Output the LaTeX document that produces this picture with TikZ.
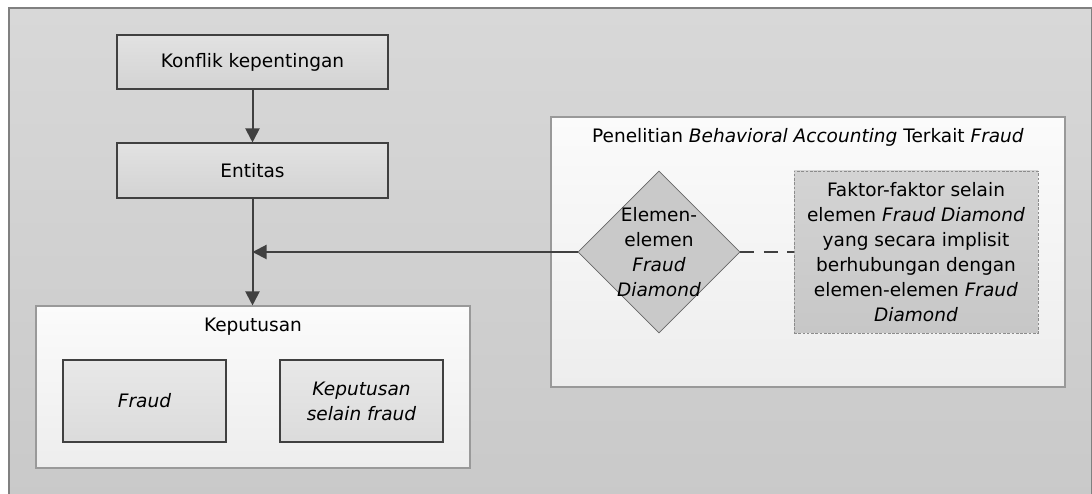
\documentclass[tikz,border=0pt]{standalone}
\usepackage{fontspec}
\setmainfont{DejaVu Sans}
\usetikzlibrary{shapes.geometric,arrows.meta}
\definecolor{latatas}{HTML}{D8D8D8}
\definecolor{latbawah}{HTML}{C9C9C9}
\definecolor{kotakatas}{HTML}{E2E2E2}
\definecolor{kotakbawah}{HTML}{D3D3D3}
\definecolor{wadahatas}{HTML}{FBFBFB}
\definecolor{wadahbawah}{HTML}{EDEDED}
\definecolor{garis}{HTML}{404040}
\begin{document}
\begin{tikzpicture}[x=0.75pt, y=0.75pt,
  font=\fontsize{13.9}{18.75}\selectfont,
  kotak/.style={draw=garis, line width=0.8pt, top color=kotakatas, bottom color=kotakbawah, inner sep=0pt, align=center},
  wadah/.style={draw=black!40, line width=0.8pt, top color=wadahatas, bottom color=wadahbawah, inner sep=0pt},
  panah/.style={-{Triangle[length=10.5pt,width=10.5pt]}, draw=garis, line width=1.5pt}]
  \useasboundingbox (0,0) rectangle (1092,493);
  \draw [draw=black!50, line width=1.1pt, top color=latatas, bottom color=latbawah] (9,485) rectangle (1091.5,-10); % latar
  \node [kotak, minimum width=203.25pt, minimum height=40.5pt] (konflik) at (252.5,431) {Konflik kepentingan};
  \node [kotak, minimum width=203.25pt, minimum height=41.25pt] (entitas) at (252.5,322.5) {Entitas};
  \node [wadah, minimum width=325.5pt, minimum height=121.5pt] (keputusan) at (253,106) {};
  \node (judulkep) at (253,166) {Keputusan};
  \node [kotak, top color=white!91!black, bottom color=white!86!black, minimum width=122.25pt, minimum height=61.5pt] (fraud) at (144.5,92) {\textit{Fraud}};
  \node [kotak, top color=white!91!black, bottom color=white!86!black, minimum width=122.25pt, minimum height=61.5pt] (selain) at (361.5,92) {\textit{Keputusan}\\\textit{selain fraud}};
  \node [wadah, minimum width=385.5pt, minimum height=202.5pt] (penelitian) at (808,241) {};
  \node (judulpen) at (808,356) {Penelitian \textit{Behavioral Accounting} Terkait \textit{Fraud}};
  \node [diamond, draw=black!60, line width=0.6pt, fill=white!79!black, minimum width=121.5pt, minimum height=121.5pt, inner sep=0pt] (elemen) at (659,241) {};
  \node [align=center] (teksel) at (659,241) {Elemen-\\elemen\\\textit{Fraud}\\\textit{Diamond}};
  \node [draw=black!45, line width=0.6pt, dash pattern=on 2pt off 1.2pt, top color=white!83!black, bottom color=white!78!black, minimum width=183pt, minimum height=121.5pt, inner sep=0pt, align=center] (faktor) at (916,241) {Faktor-faktor selain\\elemen \textit{Fraud Diamond}\\yang secara implisit\\berhubungan dengan\\elemen-elemen \textit{Fraud}\\\textit{Diamond}};
  \draw [panah] (konflik) -- (entitas);
  \draw [panah] (entitas) -- (entitas |- keputusan.north);
  \draw [panah] (elemen) -- (elemen -| entitas);
  \draw [draw=garis, line width=1.1pt, dash pattern=on 10.5pt off 7pt] (elemen) -- (faktor);
\end{tikzpicture}
\end{document}
